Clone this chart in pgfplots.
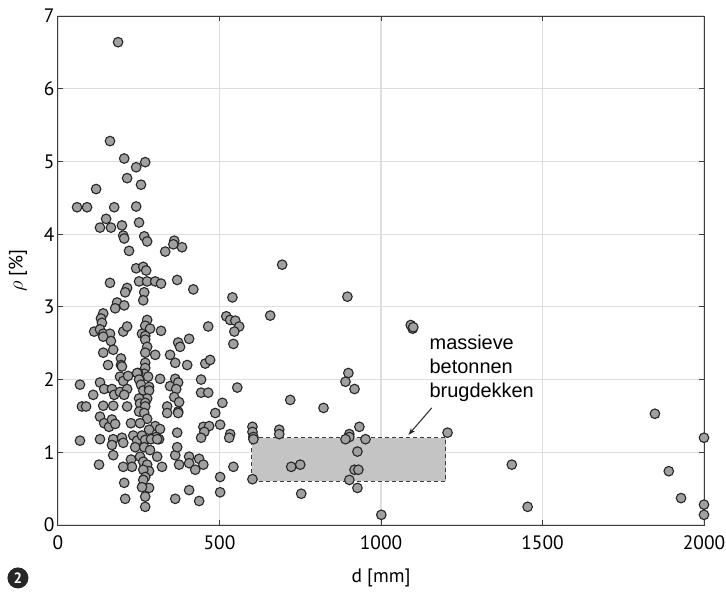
\documentclass[border=0pt]{standalone}
\usepackage{pgfplots}
\pgfplotsset{compat=1.18}
\usetikzlibrary{arrows.meta}
\usepackage{fontspec}
\setmainfont{PT Sans}
\newfontfamily\arial{Liberation Sans}
\definecolor{markfill}{RGB}{160,160,160}
\definecolor{boxfill}{RGB}{196,196,196}
\definecolor{gridc}{RGB}{222,222,222}
\definecolor{axc}{RGB}{60,60,60}
\begin{document}
\begin{tikzpicture}
\begin{axis}[
 scale only axis, width=646bp, height=509bp,
 xmin=0, xmax=2000, ymin=0, ymax=7,
 xtick={0,500,1000,1500,2000}, ytick={0,1,2,3,4,5,6,7},
 grid=major, major grid style={gridc, line width=1.2bp},
 tick align=inside, major tick length=5bp,
 axis line style={axc, line width=1bp},
 tick style={axc, line width=1bp},
 font=\fontsize{19.5}{22}\selectfont,
 /pgf/number format/assume math mode=true,
 /pgf/number format/1000 sep={},
 scaled x ticks=false,
 xticklabel style={yshift=-7bp},
 xlabel={d [mm]}, ylabel={$\rho$ [\%]},
 x label style={at={(axis description cs:0.5,-0.104)}, anchor=center},
 y label style={at={(axis description cs:-0.062,0.5)}, anchor=center},
 clip=false,
]
\addplot[draw=axc, dash pattern=on 4bp off 3bp, fill=boxfill, line width=1bp] coordinates {(600,0.6) (1200,0.6) (1200,1.2) (600,1.2)} -- cycle;
\addplot[only marks, mark=*, mark size=4.8bp, mark options={fill=markfill, draw=black!85, line width=1.1bp}] table {
x y
186 6.64
161 5.28
205 5.04
242 4.92
270 4.99
214 4.77
257 4.68
118 4.62
59 4.37
90 4.37
174 4.37
242 4.38
149 4.21
130 4.09
164 4.09
198 4.12
202 3.98
205 3.94
251 4.16
267 3.97
276 3.90
220 3.77
360 3.91
357 3.86
384 3.82
332 3.76
242 3.53
264 3.55
273 3.50
161 3.33
251 3.35
276 3.35
301 3.35
319 3.32
369 3.37
214 3.26
208 3.20
267 3.20
264 3.09
419 3.24
540 3.13
183 3.06
177 2.98
205 3.02
140 2.91
133 2.84
136 2.78
276 2.82
270 2.74
285 2.70
319 2.67
112 2.66
130 2.69
140 2.63
161 2.63
140 2.59
202 2.66
214 2.73
260 2.63
270 2.60
465 2.73
521 2.87
533 2.82
549 2.81
561 2.73
546 2.66
543 2.49
164 2.53
171 2.41
140 2.37
270 2.55
276 2.45
270 2.37
372 2.51
378 2.45
406 2.56
301 2.34
347 2.34
363 2.23
155 2.20
195 2.29
195 2.20
198 2.18
270 2.23
270 2.16
267 2.08
248 2.09
400 2.20
456 2.22
471 2.27
68 1.93
109 1.79
130 1.96
143 1.87
167 1.87
174 1.79
192 1.83
192 2.04
202 1.98
217 2.05
214 1.87
205 1.79
245 2.09
251 2.00
257 1.93
264 1.85
279 2.04
282 1.90
282 1.85
276 1.74
251 1.74
254 1.67
270 1.68
270 1.63
316 2.01
347 1.91
363 2.01
372 1.96
366 1.87
360 1.76
375 1.69
372 1.56
443 2.00
443 1.82
465 1.82
509 1.68
487 1.54
555 1.89
74 1.63
87 1.63
140 1.64
171 1.64
130 1.49
143 1.40
158 1.35
167 1.45
177 1.39
214 1.63
226 1.40
251 1.56
267 1.54
276 1.46
254 1.40
338 1.63
338 1.54
372 1.54
301 1.36
316 1.32
304 1.21
313 1.18
282 1.31
369 1.27
450 1.35
468 1.36
453 1.28
443 1.20
502 1.38
533 1.25
530 1.20
68 1.16
130 1.18
171 1.18
167 1.10
198 1.20
202 1.13
171 0.96
233 1.23
245 1.16
260 1.23
270 1.17
288 1.18
307 1.18
239 1.07
267 1.07
285 1.03
226 0.90
229 0.80
254 0.94
264 0.87
276 0.83
282 0.74
264 0.76
270 0.66
264 0.62
282 0.51
270 0.39
270 0.25
260 0.52
202 0.80
205 0.58
208 0.36
127 0.83
307 0.94
322 0.80
363 0.96
375 0.83
369 1.07
406 0.94
406 0.85
425 0.76
437 0.91
450 0.83
502 0.66
543 0.80
363 0.36
406 0.48
437 0.33
502 0.45
694 3.58
896 3.14
657 2.88
899 2.09
890 1.97
918 1.87
719 1.72
822 1.61
602 1.35
602 1.28
605 1.21
605 1.18
685 1.31
685 1.25
933 1.35
902 1.25
902 1.21
890 1.18
952 1.18
927 1.01
722 0.80
750 0.83
918 0.76
930 0.76
902 0.62
602 0.63
927 0.51
753 0.43
1001 0.14
1092 2.75
1098 2.70
1100 2.72
1206 1.27
1405 0.83
1454 0.25
1848 1.53
2000 1.20
1891 0.74
1929 0.37
2000 0.28
2000 0.14
};
\node[anchor=base west, inner sep=0, font=\arial\fontsize{20}{23}\selectfont] at (axis cs:1150,2.41) {massieve};
\node[anchor=base west, inner sep=0, font=\arial\fontsize{20}{23}\selectfont] at (axis cs:1150,2.09) {betonnen};
\node[anchor=base west, inner sep=0, font=\arial\fontsize{20}{23}\selectfont] at (axis cs:1150,1.76) {brugdekken};
\draw[-{Stealth[length=7bp,width=5bp]}, line width=1bp, black!85] (axis cs:1157,1.61) -- (axis cs:1085,1.24);
\node[circle, fill=black!85, text=white, minimum size=21bp, inner sep=0, font=\bfseries\fontsize{15}{15}\selectfont] at (rel axis cs:-0.062,-0.104) {2};
\end{axis}
\pgfresetboundingbox
\path[use as bounding box] ([xshift=-58bp,yshift=-67bp]current axis.south west) rectangle ++(726bp,592bp);
\end{tikzpicture}
\end{document}
